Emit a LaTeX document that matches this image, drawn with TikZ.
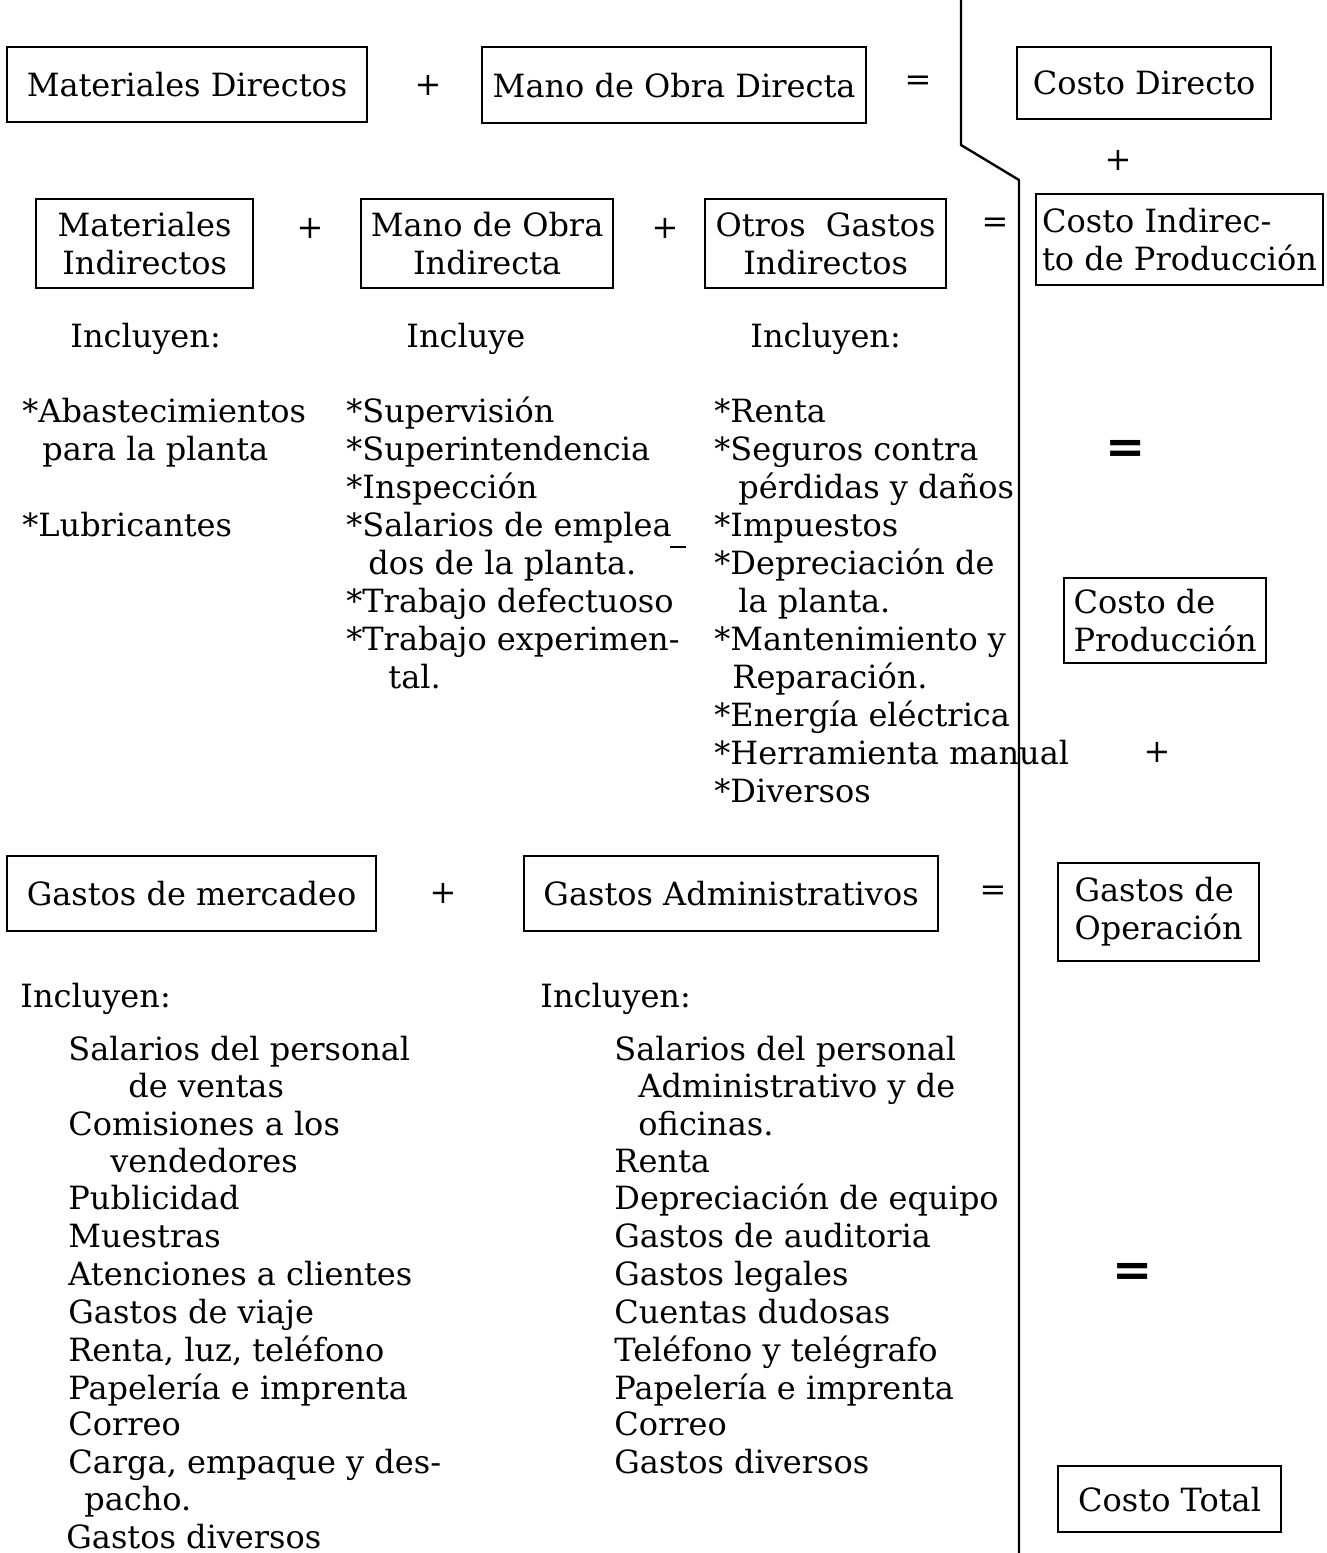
\documentclass[tikz,border=0pt]{standalone}
\usepackage{fontspec}
\setmainfont{DejaVu Serif}
\newcommand\fnt{\fontsize{16}{19}\selectfont}
\newcommand\fntw{\fontsize{16}{19}\selectfont}
\begin{document}
\begin{tikzpicture}[x=0.5pt,y=-0.5pt,
  box/.style={draw, line width=1.1pt, inner sep=0pt, rectangle, anchor=north west, align=center, font=\fnt},
  lbox/.style={box, align=left},
  txt/.style={anchor=base west, inner sep=0pt, font=\fnt},
  wtxt/.style={anchor=base west, inner sep=0pt, font=\fntw},
  op/.style={font=\fnt, inner sep=0pt},
  bigeq/.style={font=\fontsize{24}{24}\selectfont\bfseries, inner sep=0pt}]
\useasboundingbox (0,0) rectangle (1327,1553);
% boxes
\node[box, minimum width=180pt, minimum height=37.5pt] (md) at (6,46) {Materiales Directos};
\node[box, minimum width=192pt, minimum height=38pt] (mod) at (481,46) {Mano de Obra Directa};
\node[box, minimum width=127pt, minimum height=36pt] (cd) at (1016,46) {Costo Directo};
\node[box, minimum width=108.5pt, minimum height=44.5pt] (mi) at (35,198) {Materiales\\Indirectos};
\node[box, minimum width=126pt, minimum height=44.5pt] (moi) at (360,198) {Mano de Obra\\Indirecta};
\node[box, minimum width=120.5pt, minimum height=44.5pt] (ogi) at (704,198) {Otros\ \ Gastos\\Indirectos};
\node[lbox, minimum width=143.5pt, minimum height=45.5pt] (cip) at (1035,193) {Costo Indirec-\\to de Producción};
\node[lbox, minimum width=101pt, minimum height=42.5pt] (cp) at (1063,577) {Costo de\\Producción};
\node[box, minimum width=184.5pt, minimum height=37.5pt, font=\fntw] (gm) at (6,855) {Gastos de mercadeo};
\node[box, minimum width=207pt, minimum height=37.5pt, font=\fntw] (ga) at (523,855) {Gastos Administrativos};
\node[lbox, minimum width=100.5pt, minimum height=49pt, font=\fntw] (go) at (1057,862) {Gastos de\\Operación};
\node[box, minimum width=111.5pt, minimum height=33pt, font=\fntw] (ct) at (1057,1465) {Costo Total};
% operators
\node[op] (p1) at (428,85) {+};
\node[op] (e1) at (918,83) {=};
\node[op] (p2) at (1118,160) {+};
\node[op] (p3) at (310,228) {+};
\node[op] (p4) at (665,228) {+};
\node[op] (e2) at (995,225) {=};
\node[bigeq] (e3) at (1126,452) {=};
\node[op] (p5) at (1157,752) {+};
\node[op] (p6) at (443,893) {+};
\node[op] (e4) at (993,893) {=};
\node[bigeq] (e5) at (1133,1275) {=};
% divider line
\coordinate (lt) at (961,0);
\coordinate (lk1) at (961,145);
\coordinate (lk2) at (1019,180);
\coordinate (lb) at (1019,1553);
\draw[line width=1.2pt, line join=round] (lt) -- (lk1) -- (lk2) -- (lb);
% headers
\node[txt] (h1) at (70,347) {Incluyen:};
\node[txt] (h2) at (406,347) {Incluye};
\node[txt] (h3) at (750,347) {Incluyen:};
% column 1
\node[txt] (a1) at (22,422) {*Abastecimientos};
\node[txt] (a2) at (42,460) {para la planta};
\node[txt] (a3) at (22,536) {*Lubricantes};
% column 2
\node[txt] (b1) at (346,422) {*Supervisión};
\node[txt] (b2) at (346,460) {*Superintendencia};
\node[txt] (b3) at (346,498) {*Inspección};
\node[txt] (b4) at (346,536) {*Salarios de emplea};
\node[txt] (b5) at (368,574) {dos de la planta.};
\node[txt] (b6) at (346,612) {*Trabajo defectuoso};
\node[txt] (b7) at (346,650) {*Trabajo experimen-};
\node[txt] (b8) at (388,688) {tal.};
\coordinate (hy1) at (670,547);
\coordinate (hy2) at (686,547);
\draw[line width=1.2pt] (hy1) -- (hy2);
% column 3
\node[txt] (c1) at (714,422) {*Renta};
\node[txt] (c2) at (714,460) {*Seguros contra};
\node[txt] (c3) at (738,498) {pérdidas y daños};
\node[txt] (c4) at (714,536) {*Impuestos};
\node[txt] (c5) at (714,574) {*Depreciación de};
\node[txt] (c6) at (738,612) {la planta.};
\node[txt] (c7) at (714,650) {*Mantenimiento y};
\node[txt] (c8) at (732,688) {Reparación.};
\node[txt] (c9) at (714,726) {*Energía eléctrica};
\node[txt] (c10) at (714,764) {*Herramienta manual};
\node[txt] (c11) at (714,802) {*Diversos};
% bottom headers
\node[wtxt] (h4) at (20,1007) {Incluyen:};
\node[wtxt] (h5) at (540,1007) {Incluyen:};
% column A
\node[wtxt] (d1) at (68,1060) {Salarios del personal};
\node[wtxt] (d2) at (128,1097) {de ventas};
\node[wtxt] (d3) at (68,1135) {Comisiones a los};
\node[wtxt] (d4) at (110,1172) {vendedores};
\node[wtxt] (d5) at (68,1209) {Publicidad};
\node[wtxt] (d6) at (68,1247) {Muestras};
\node[wtxt] (d7) at (68,1285) {Atenciones a clientes};
\node[wtxt] (d8) at (68,1323) {Gastos de viaje};
\node[wtxt] (d9) at (68,1361) {Renta, luz, teléfono};
\node[wtxt] (d10) at (68,1399) {Papelería e imprenta};
\node[wtxt] (d11) at (68,1435) {Correo};
\node[wtxt] (d12) at (68,1473) {Carga, empaque y des-};
\node[wtxt] (d13) at (84,1510) {pacho.};
\node[wtxt] (d14) at (66,1548) {Gastos diversos};
% column B
\node[wtxt] (f1) at (614,1060) {Salarios del personal};
\node[wtxt] (f2) at (638,1097) {Administrativo y de};
\node[wtxt] (f3) at (638,1135) {oficinas.};
\node[wtxt] (f4) at (614,1172) {Renta};
\node[wtxt] (f5) at (614,1209) {Depreciación de equipo};
\node[wtxt] (f6) at (614,1247) {Gastos de auditoria};
\node[wtxt] (f7) at (614,1285) {Gastos legales};
\node[wtxt] (f8) at (614,1323) {Cuentas dudosas};
\node[wtxt] (f9) at (614,1361) {Teléfono y telégrafo};
\node[wtxt] (f10) at (614,1399) {Papelería e imprenta};
\node[wtxt] (f11) at (614,1435) {Correo};
\node[wtxt] (f12) at (614,1473) {Gastos diversos};
\end{tikzpicture}
\end{document}
